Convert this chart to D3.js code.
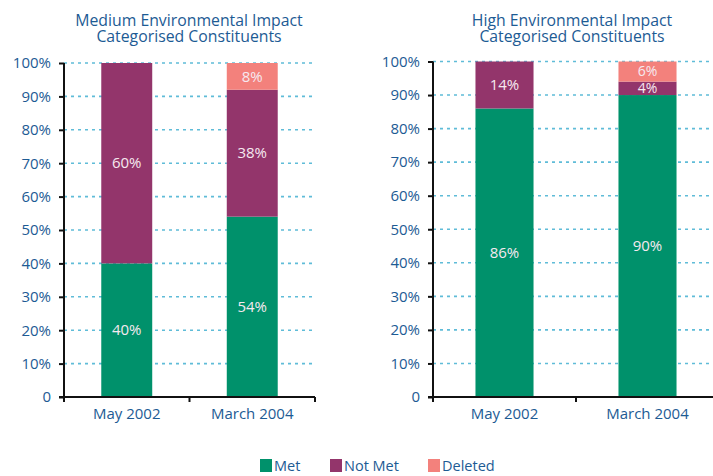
<!DOCTYPE html>
<html>
<head>
<meta charset="utf-8">
<script src="https://cdn.jsdelivr.net/npm/d3@7/dist/d3.min.js"></script>
<style>
  html, body { margin: 0; padding: 0; background: #ffffff; }
  svg { display: block; font-family: "Open Sans", "Noto Sans", sans-serif; }
</style>
</head>
<body>
<svg id="chart" width="713" height="476"></svg>
<script>
// Categories along the x axis
const categories = ["May 2002", "March 2004"];
// Series (stack order bottom to top)
const seriesNames = ["Met", "Not Met", "Deleted"];
const seriesColors = ["#00916b", "#93356b", "#f3817c"];

// Medium environmental impact values (%)
const mediumMet = [40, 54];
const mediumNotMet = [60, 38];
const mediumDeleted = [0, 8];

// High environmental impact values (%)
const highMet = [86, 90];
const highNotMet = [14, 4];
const highDeleted = [0, 6];

// Y axis ticks and labels
const yTicks = [0, 10, 20, 30, 40, 50, 60, 70, 80, 90, 100];
const yTickLabels = ["0", "10%", "20%", "30%", "40%", "50%", "60%", "70%", "80%", "90%", "100%"];

const panels = [
  { title: ["Medium Environmental Impact", "Categorised Constituents"],
    values: [mediumMet, mediumNotMet, mediumDeleted],
    x0: 64, x1: 315, yTop: 63, titleX: 189 },
  { title: ["High Environmental Impact", "Categorised Constituents"],
    values: [highMet, highNotMet, highDeleted],
    x0: 433, x1: 719, yTop: 61.5, titleX: 572 }
];

const textColor = "#1d5b94";
const svg = d3.select("#chart");
const yBottom = 397;

panels.forEach(p => {
  const g = svg.append("g");

  const x = d3.scaleBand().domain(categories).range([p.x0, p.x1])
    .paddingInner(0.594).paddingOuter(0.297);
  const y = d3.scaleLinear().domain([0, 100]).range([yBottom, p.yTop]);

  // Two-line title
  g.append("g").selectAll("text").data(p.title).join("text")
    .attr("x", p.titleX).attr("y", (d, i) => 26 + i * 16)
    .attr("text-anchor", "middle")
    .attr("fill", textColor).attr("font-size", 15.8).attr("font-weight", 500)
    .text(d => d);

  // Dotted gridlines
  g.append("g").selectAll("line").data(yTicks.filter(t => t > 0)).join("line")
    .attr("x1", p.x0).attr("x2", p.x1)
    .attr("y1", d => y(d)).attr("y2", d => y(d))
    .attr("stroke", "#5fbcd8").attr("stroke-width", 1.6)
    .attr("stroke-dasharray", "3,4");

  // Stacked data
  const rows = categories.map((c, i) => {
    const r = { cat: c };
    seriesNames.forEach((s, k) => r[s] = p.values[k][i]);
    return r;
  });
  const stacked = d3.stack().keys(seriesNames)(rows);

  const layers = g.append("g").selectAll("g").data(stacked).join("g")
    .attr("fill", (d, i) => seriesColors[i]);
  layers.selectAll("rect").data(d => d).join("rect")
    .attr("x", d => x(d.data.cat))
    .attr("width", x.bandwidth())
    .attr("y", d => y(d[1]))
    .attr("height", d => y(d[0]) - y(d[1]));

  // Value labels inside segments
  const labelData = [];
  stacked.forEach(layer => layer.forEach(d => {
    const v = d[1] - d[0];
    if (v > 0) labelData.push({ cat: d.data.cat, mid: (d[0] + d[1]) / 2, v });
  }));
  g.append("g").selectAll("text").data(labelData).join("text")
    .attr("x", d => x(d.cat) + x.bandwidth() / 2)
    .attr("y", d => y(d.mid))
    .attr("dy", d => d.v < 8 ? "0.3em" : "0.35em")
    .attr("text-anchor", "middle")
    .attr("fill", "#f6e9f0").attr("font-size", d => d.v < 8 ? 14 : 15)
    .text(d => d.v + "%");

  // Y axis
  const yAxis = d3.axisLeft(y).tickValues(yTicks)
    .tickFormat((d, i) => yTickLabels[i]).tickSize(5).tickPadding(8).tickSizeOuter(0);
  const ya = g.append("g").attr("transform", `translate(${p.x0},0)`).call(yAxis);
  ya.select(".domain").attr("stroke", "#111").attr("stroke-width", 2)
    .attr("d", `M0,${yBottom}V${p.yTop}`);
  ya.selectAll(".tick line").attr("stroke", "#111").attr("stroke-width", 2);
  ya.selectAll(".tick text").attr("fill", textColor).attr("font-size", 15)
    .attr("font-family", "Open Sans, Noto Sans, sans-serif");

  // X axis line with ticks at band boundaries
  g.append("line").attr("x1", p.x0 - 5).attr("x2", p.x1)
    .attr("y1", yBottom).attr("y2", yBottom)
    .attr("stroke", "#111").attr("stroke-width", 2);
  const bounds = [p.x0, (p.x0 + p.x1) / 2, p.x1];
  g.append("g").selectAll("line").data(bounds).join("line")
    .attr("x1", d => d).attr("x2", d => d)
    .attr("y1", yBottom).attr("y2", yBottom + 5)
    .attr("stroke", "#111").attr("stroke-width", 2);

  g.append("g").selectAll("text").data(categories).join("text")
    .attr("x", d => x(d) + x.bandwidth() / 2)
    .attr("y", 419)
    .attr("text-anchor", "middle")
    .attr("fill", textColor).attr("font-size", 15)
    .text(d => d);
});

// Legend
const legendX = [260, 330, 428];
const legend = svg.append("g").selectAll("g").data(seriesNames).join("g")
  .attr("transform", (d, i) => `translate(${legendX[i]},459)`);
legend.append("rect").attr("width", 12).attr("height", 13)
  .attr("fill", (d, i) => seriesColors[i]);
legend.append("text").attr("x", 14).attr("y", 12)
  .attr("fill", textColor).attr("font-size", 14.5).text(d => d);
</script>
</body>
</html>
